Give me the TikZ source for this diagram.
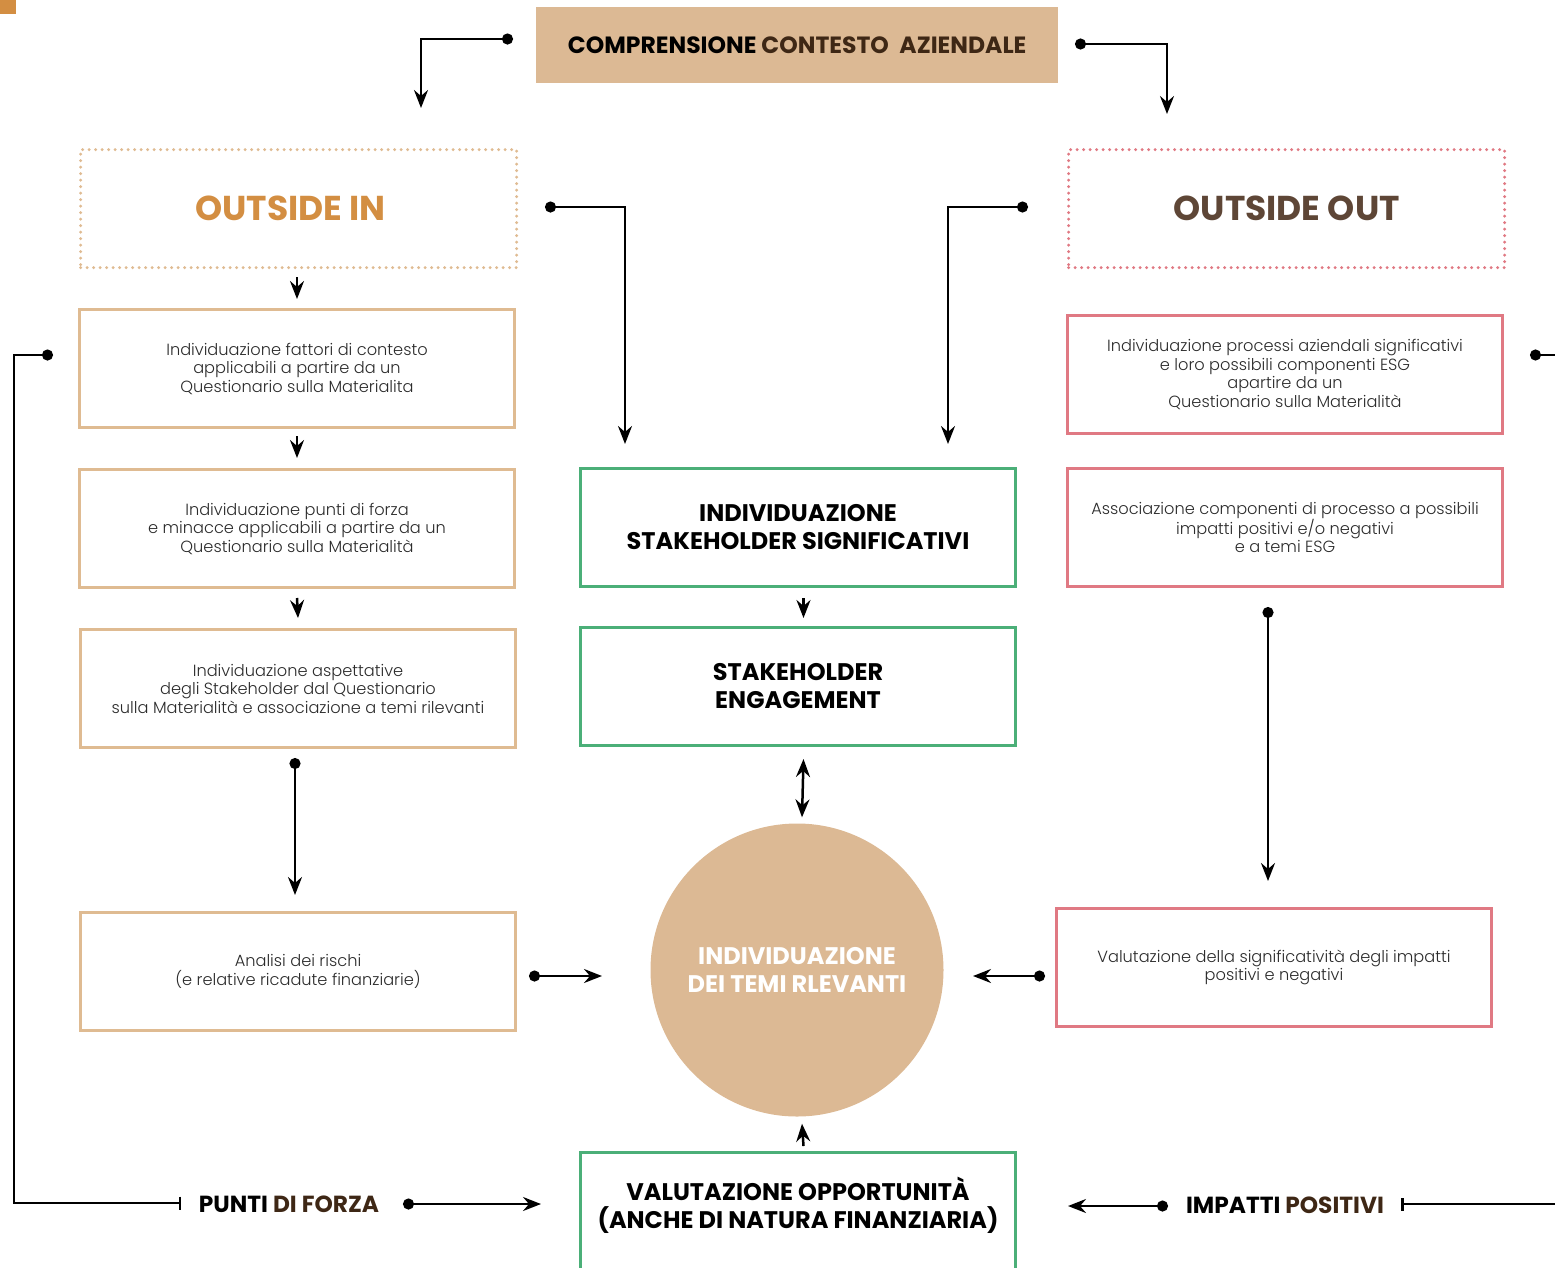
\documentclass[tikz,border=0pt]{standalone}
\usepackage{fontspec}
\setmainfont{Poppins}
\newfontfamily\lightf{Poppins Light}
\newfontfamily\boldf{Poppins Bold}
\usetikzlibrary{arrows.meta,calc}
\definecolor{tanfill}{HTML}{DCB994}
\definecolor{tanline}{HTML}{DFBB92}
\definecolor{orangeT}{HTML}{D38E42}
\definecolor{greenL}{HTML}{4BAF78}
\definecolor{pinkL}{HTML}{E07983}
\definecolor{brownT}{HTML}{5E4636}
\definecolor{darkbrown}{HTML}{3E2715}
\definecolor{bodytext}{HTML}{2B2B2B}
\tikzset{
  x=1pt, y=-1pt,
  >={Stealth[length=18pt,width=14pt,inset=6pt]},
  conn/.style={draw, line width=2.5pt},
  dotstart/.style={{Circle[length=11pt]}-{Stealth[length=18pt,width=14pt,inset=6pt]}},
  basebox/.style={line width=3pt, minimum width=435pt, minimum height=118pt, anchor=north west, align=center, inner sep=0pt},
  tanbox/.style={basebox, draw=tanline, text=bodytext, font=\lightf\fontsize{16.2}{18.5}\selectfont},
  pinkbox/.style={basebox, draw=pinkL, text=bodytext, font=\lightf\fontsize{16.2}{18.5}\selectfont},
  greenbox/.style={basebox, draw=greenL, font=\boldf\fontsize{24}{28}\selectfont},
  dotbox/.style={basebox, line width=3.3pt, line cap=round, dash pattern=on 0pt off 6.5pt, minimum width=436pt, font=\boldf\fontsize{34.5}{38}\selectfont},
  label/.style={font=\boldf\fontsize{23.3}{26}\selectfont, inner sep=0pt}
}
\begin{document}
\begin{tikzpicture}
\useasboundingbox (0,0) rectangle (1555,1267);
% orange corner mark
\fill[orangeT] (0,0) rectangle (16,14);
% header
\node[fill=tanfill, minimum width=522pt, minimum height=76pt, anchor=north west, inner sep=0pt,
  font=\boldf\fontsize{23.5}{26}\selectfont] (hdr) at (536,7)
  {COMPRENSIONE {\color{darkbrown}CONTESTO\hspace{0.45em}AZIENDALE}};
% outside boxes
\node[dotbox, draw=tanline, text=orangeT] (oin) at (79,148) {\hspace{-16pt}OUTSIDE IN};
\node[dotbox, draw=pinkL, text=brownT] (oout) at (1067,148) {OUTSIDE OUT};
% left column
\node[tanbox] (b1) at (78,308) {Individuazione fattori di contesto\\applicabili a partire da un\\Questionario sulla Materialita};
\node[tanbox] (b2) at (78,468) {Individuazione punti di forza\\e minacce applicabili a partire da un\\Questionario sulla Materialità};
\node[tanbox] (b3) at (79,628) {Individuazione aspettative\\degli Stakeholder dal Questionario\\sulla Materialità e associazione a temi rilevanti};
\node[tanbox] (b4) at (79,911) {Analisi dei rischi\\(e relative ricadute finanziarie)};
% center column
\node[greenbox] (g1) at (579,467) {INDIVIDUAZIONE\\STAKEHOLDER SIGNIFICATIVI};
\node[greenbox] (g2) at (579,626) {STAKEHOLDER\\ENGAGEMENT};
\node[greenbox, minimum height=130pt] (g3) at (579,1151) {VALUTAZIONE OPPORTUNITÀ\\(ANCHE DI NATURA FINANZIARIA)\\[2pt]\mbox{}};
\node[circle, fill=tanfill, minimum size=293pt, inner sep=0pt, align=center, text=white,
  font=\boldf\fontsize{24}{28}\selectfont] (temi) at (797,970) {INDIVIDUAZIONE\\DEI TEMI RLEVANTI};
% right column
\node[pinkbox] (r1) at (1066,314) {Individuazione processi aziendali significativi\\e loro possibili componenti ESG\\apartire da un\\Questionario sulla Materialità};
\node[pinkbox] (r2) at (1066,467) {Associazione componenti di processo a possibili\\impatti positivi e/o negativi\\e a temi ESG};
\node[pinkbox] (r3) at (1055,907) {Valutazione della significatività degli impatti\\positivi e negativi};
% bottom labels
\node[label] (pdf) at (289,1204) {PUNTI {\color{darkbrown}DI FORZA}};
\node[label] (imp) at (1285,1205) {IMPATTI {\color{darkbrown}POSITIVI}};
% coordinates for connector ends
\coordinate (hl) at (513,39);  \coordinate (hlt) at (421,108);
\coordinate (hr) at (1075,44); \coordinate (hrt) at (1167,114);
\coordinate (oins) at (545,207); \coordinate (oint) at (625,444);
\coordinate (oouts) at (1028,207); \coordinate (ooutt) at (948,444);
\coordinate (b3s) at (295,758); \coordinate (b3t) at (295,895);
\coordinate (b4s) at (529,976); \coordinate (b4t) at (602,976);
\coordinate (r3s) at (1045,976); \coordinate (r3t) at (973,976);
\coordinate (r2s) at (1268,607); \coordinate (r2t) at (1268,881);
\coordinate (lls) at (53,355); \coordinate (lle) at (181,1203);
\coordinate (rrs) at (1530,355); \coordinate (rre) at (1556,355);
\coordinate (rbs) at (1401,1204); \coordinate (rbe) at (1556,1204);
\coordinate (pfs) at (403,1204); \coordinate (pft) at (541,1204);
\coordinate (ips) at (1168,1206); \coordinate (ipt) at (1068,1206);
% connectors
\draw[conn, dotstart] (hl) -| (hlt);
\draw[conn, dotstart] (hr) -| (hrt);
\draw[conn, dotstart] (oins) -| (oint);
\draw[conn, dotstart] (oouts) -| (ooutt);
\draw[conn, ->] ($(b1.north)+(0,-31)$) -- ($(b1.north)+(0,-9)$);
\draw[conn, ->] ($(b1.south)+(0,7)$) -- ($(b2.north)+(0,-10)$);
\draw[conn, ->] ($(b2.south)+(0,9)$) -- ($(b3.north)+(0,-10)$);
\draw[conn, dotstart] (b3s) -- (b3t);
\draw[conn, dotstart] (b4s) -- (b4t);
\draw[conn, dotstart] (r3s) -- (r3t);
\draw[conn, dotstart] (r2s) -- (r2t);
\draw[conn, ->] ($(g1.south)+(5.5,10)$) -- ($(g2.north)+(5.5,-8)$);
\draw[conn, <->] ($(g2.south)+(5.5,12)$) -- ($(temi.north)+(5,-6)$);
\draw[conn, ->] ($(g3.north)+(5.5,-5)$) -- ($(temi.south)+(5,7)$);
\draw[conn, {Circle[length=11pt]}-{Bar[width=13pt]}] (lls) -- (14,355) |- (lle);
\draw[conn, {Circle[length=11pt]}-] (rrs) -- (rre);
\draw[conn, {Bar[width=13pt]}-] (rbs) -- (rbe);
\draw[conn, dotstart] (pfs) -- (pft);
\draw[conn, dotstart] (ips) -- (ipt);
\end{tikzpicture}
\end{document}
